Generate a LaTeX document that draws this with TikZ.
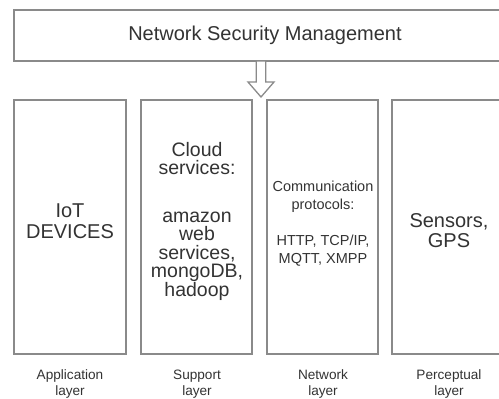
\documentclass[tikz,border=0pt]{standalone}
\usepackage{fontspec}
\setmainfont{Liberation Sans}
\definecolor{edge}{HTML}{8A8A8A}
\definecolor{ink}{HTML}{333333}
\tikzset{
  layerbox/.style={draw=edge, line width=1.5pt, fill=white, inner sep=0pt},
  boxtext/.style={text=ink, align=center, inner sep=0pt},
  caption/.style={text=ink, align=center, inner sep=0pt, font=\fontsize{13.6}{16}\selectfont},
}
\begin{document}
\begin{tikzpicture}[x=1pt,y=-1pt]
\useasboundingbox (0,0) rectangle (499,399);
\clip (0,0) rectangle (499,399);
\fill[white] (0,0) rectangle (499,399);
% top box
\draw[layerbox] (14,10) rectangle (515,61);
\node[boxtext, font=\fontsize{20}{22}\selectfont] (nsm) at (265,35) {Network Security Management};
\coordinate (top) at (261,61);
% layer boxes
\draw[layerbox] (14,100) rectangle (126,354);
\draw[layerbox] (141,100) rectangle (252,354);
\draw[layerbox] (267,100) rectangle (378,354);
\draw[layerbox] (392,100) rectangle (515,354);
% arrow
\draw[draw=edge, line width=1.3pt, fill=white, line join=miter]
  (top) ++(-4.7,0) -- ++(0,21) -- ++(-8.3,0) -- ++(13,15)
  -- ++(13,-15) -- ++(-8.3,0) -- ++(0,-21) -- cycle;
% texts
\node[boxtext, font=\fontsize{20}{21}\selectfont] (iot) at (70,221) {IoT\\DEVICES};
\node[boxtext, font=\fontsize{19.5}{18.5}\selectfont] (cloud) at (197,221)
  {Cloud\\services:\\[29pt]amazon\\web\\services,\\mongoDB,\\hadoop};
\node[boxtext, font=\fontsize{14.5}{18}\selectfont] (comm) at (323,224)
  {Communication\\protocols:\\[18pt]HTTP, TCP/IP,\\MQTT, XMPP};
\node[boxtext, font=\fontsize{20}{20}\selectfont] (sens) at (449,231) {Sensors,\\GPS};
% captions
\node[caption] (app) at (70,384) {Application\\layer};
\node[caption] (sup) at (197,384) {Support\\layer};
\node[caption] (net) at (323,384) {Network\\layer};
\node[caption] (per) at (449,384) {Perceptual\\layer};
\end{tikzpicture}
\end{document}
